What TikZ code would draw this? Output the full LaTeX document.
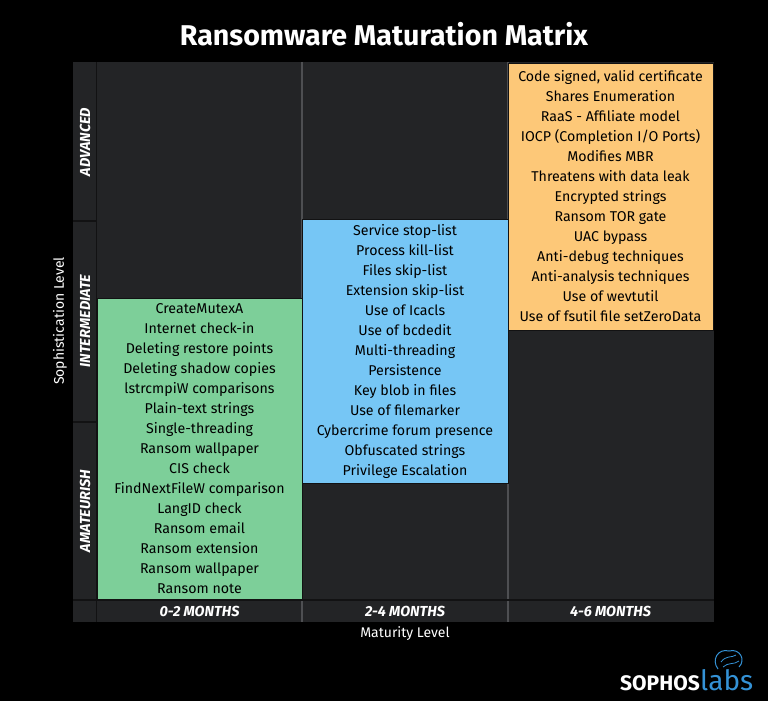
\documentclass[tikz,border=0pt]{standalone}
\usepackage{fontspec}
\setmainfont{Fira Sans}
\usetikzlibrary{positioning}
\definecolor{panel}{RGB}{35,36,38}
\definecolor{gridline}{RGB}{78,79,82}
\definecolor{darkline}{RGB}{18,18,19}
\definecolor{amagreen}{RGB}{125,207,153}
\definecolor{intblue}{RGB}{118,198,245}
\definecolor{advorange}{RGB}{253,200,120}
\definecolor{labsblue}{RGB}{52,146,214}

\begin{document}
\begin{tikzpicture}[x=1pt,y=-1pt,
  cellbox/.style={draw=darkline,line width=0.6pt,inner sep=0pt,align=center,text=black,
    font=\fontsize{14.2}{20}\selectfont},
  rowlabel/.style={rotate=90,text=white,font=\fontsize{14.5}{16}\selectfont\bfseries\itshape},
  collabel/.style={text=white,font=\fontsize{14.5}{16}\selectfont\bfseries\itshape},
  axislabel/.style={text=white,font=\fontsize{14}{16}\selectfont}]
\fill[black](0,0) rectangle (768,701);
\fill[panel](73,62) rectangle (714,622);

\node[text=white,font=\fontsize{28.6}{32}\selectfont\bfseries](title) at (384,34){Ransomware Maturation Matrix};

% grid lines
\draw[gridline,line width=1.2pt](302,62)--(302,622);
\draw[gridline,line width=1.2pt](508,62)--(508,622);
\draw[darkline,line width=1.5pt](96.5,62)--(96.5,622);
\draw[darkline,line width=1.5pt](73,600)--(714,600);
\draw[darkline,line width=1.5pt](73,221)--(96.5,221);
\draw[darkline,line width=1.5pt](73,422)--(96.5,422);

% cells
\node[cellbox,fill=amagreen,minimum width=205,minimum height=301](amateur) at (199.5,448.5){CreateMutexA\\Internet check-in\\Deleting restore points\\Deleting shadow copies\\lstrcmpiW comparisons\\Plain-text strings\\Single-threading\\Ransom wallpaper\\CIS check\\FindNextFileW comparison\\LangID check\\Ransom email\\Ransom extension\\Ransom wallpaper\\Ransom note};
\node[cellbox,fill=intblue,minimum width=206,minimum height=264](inter) at (405,351){Service stop-list\\Process kill-list\\Files skip-list\\Extension skip-list\\Use of Icacls\\Use of bcdedit\\Multi-threading\\Persistence\\Key blob in files\\Use of filemarker\\Cybercrime forum presence\\Obfuscated strings\\Privilege Escalation};
\node[cellbox,fill=advorange,minimum width=205,minimum height=267](advanced) at (610.5,196.5){Code signed, valid certificate\\Shares Enumeration\\RaaS - Affiliate model\\IOCP (Completion I/O Ports)\\Modifies MBR\\Threatens with data leak\\Encrypted strings\\Ransom TOR gate\\UAC bypass\\Anti-debug techniques\\Anti-analysis techniques\\Use of wevtutil\\Use of fsutil file setZeroData};

% row and column labels
\node[rowlabel](rowAdv) at (85,142){ADVANCED};
\node[rowlabel](rowInt) at (85,321){INTERMEDIATE};
\node[rowlabel](rowAma) at (85,511){AMATEURISH};
\node[collabel](colA) at (199.5,611){0-2 MONTHS};
\node[collabel](colB) at (405,611){2-4 MONTHS};
\node[collabel](colC) at (610.5,611){4-6 MONTHS};

\node[axislabel,rotate=90](ylab) at (60,321){Sophistication Level};
\node[axislabel](xlab) at (405,634){Maturity Level};

% logo
\node[text=white,font=\fontsize{21}{22}\selectfont\bfseries,anchor=base east,inner sep=0pt](sophos) at (700,690){SOPHOS};
\node[text=labsblue,font=\fontsize{28}{30}\selectfont,anchor=base west,inner sep=0pt](labs) at (sophos.base east){labs};
\draw[labsblue,line width=1pt](718,669) .. controls (711,660) and (718,648) .. (729,651) .. controls (740,648) and (746,660) .. (739,667);
\draw[labsblue,line width=0.8pt](721,662) .. controls (726,655) and (732,658) .. (736,655);
\draw[labsblue,line width=0.8pt](723,667) .. controls (728,662) and (734,665) .. (739,661);
\end{tikzpicture}
\end{document}
